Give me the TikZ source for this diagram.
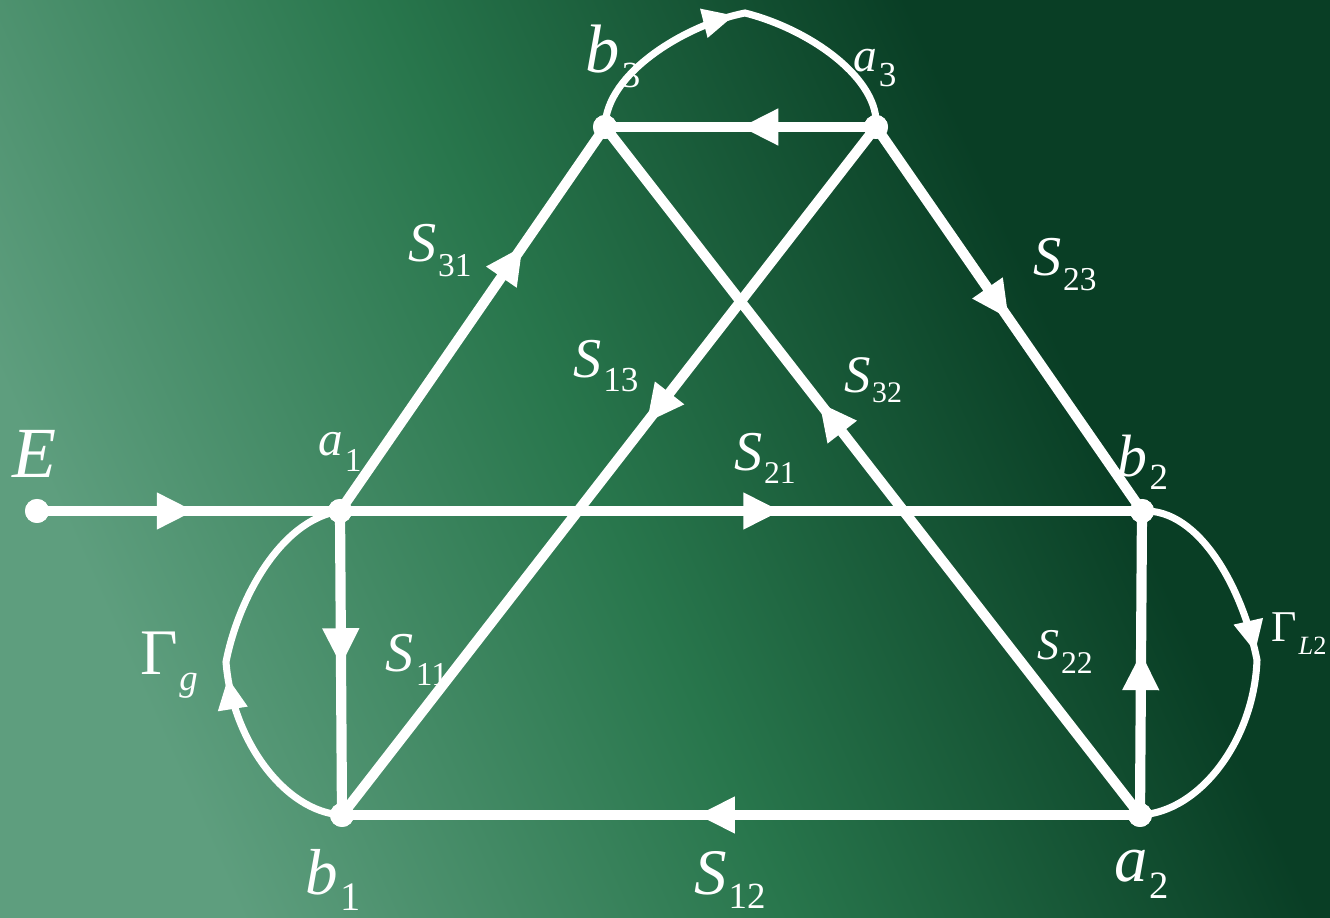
\documentclass[tikz,border=0pt]{standalone}
\usepackage{fontspec}
\setmainfont{Liberation Serif}
\usetikzlibrary{arrows.meta,decorations.markings}
\definecolor{bgL}{RGB}{94,158,126}
\definecolor{bgM}{RGB}{40,118,76}
\definecolor{bgD}{RGB}{9,62,37}
\pgfdeclarehorizontalshading{bgshade}{100bp}{color(0bp)=(bgL); color(26bp)=(bgL); color(47bp)=(bgM); color(67bp)=(bgD); color(100bp)=(bgD)}
\newcommand{\fs}[1]{\fontsize{#1}{#1}\selectfont}
\newcommand{\lab}[5]{{\fs{#1}#2}\kern1pt\raisebox{-#5}{\fs{#3}#4}}
\begin{document}
\begin{tikzpicture}[x=0.02cm,y=-0.02cm,
  dot/.style={circle,fill=white,inner sep=0pt,minimum size=0.48cm},
  edge/.style={draw=white,line width=5.8pt},
  loopline/.style={draw=white,line width=4pt},
  arrowat/.style={postaction={decorate,decoration={markings,mark=at position #1 with {\arrow{Triangle[length=21.5pt,width=19.5pt]}}}}},
  smallarrowat/.style={postaction={decorate,decoration={markings,mark=at position #1 with {\arrow{Triangle[length=18pt,width=16pt]}}}}},
  lbl/.style={text=white,inner sep=0pt}]
\useasboundingbox (0,0) rectangle (1330,918);
\shade[shading=bgshade,shading angle=24] (0,0) rectangle (1330,918);
% nodes
\node[dot] (E) at (37,511) {};
\node[dot] (a1) at (340,511) {};
\node[dot] (b1) at (342,815) {};
\node[dot] (a2) at (1140,815) {};
\node[dot] (b2) at (1142,511) {};
\node[dot] (b3) at (605,127) {};
\node[dot] (a3) at (876,127) {};
\coordinate (gap) at (226,662);
\coordinate (lap) at (1257,660);
\coordinate (tap) at (745,13);
% straight edges
\draw[edge,arrowat=0.52] (E.center) -- (a1.center);
\draw[edge,arrowat=0.69] (a1.center) -- (b3.center);
\draw[edge,arrowat=0.50] (a3.center) -- (b2.center);
\draw[edge,arrowat=0.43] (a3.center) -- (b1.center);
\draw[edge,arrowat=0.60] (a2.center) -- (b3.center);
\draw[edge,arrowat=0.55] (a1.center) -- (b2.center);
\draw[edge,arrowat=0.51] (a1.center) -- (b1.center);
\draw[edge,arrowat=0.555] (a2.center) -- (b1.center);
\draw[edge,arrowat=0.535] (a2.center) -- (b2.center);
\draw[edge,arrowat=0.50] (a3.center) -- (b3.center);
% loops
\draw[loopline,smallarrowat=0.47] (b1.center) .. controls (285,812) and (232,740) .. (gap) .. controls (238,600) and (280,520) .. (a1.center);
\draw[loopline,smallarrowat=0.47] (b2.center) .. controls (1200,508) and (1243,590) .. (lap) .. controls (1254,740) and (1200,812) .. (a2.center);
\draw[loopline,smallarrowat=0.48] (b3.center) .. controls (606,72) and (688,24) .. (tap) .. controls (812,30) and (880,80) .. (a3.center);
% dots on top
\foreach \n in {E,a1,b1,a2,b2,b3,a3} \fill[white] (\n.center) circle[radius=0.24cm];
% labels
\node[lbl] (lE) at (35,454) {\fs{41}\textit{E}};
\node[lbl] (la1) at (340,452) {\lab{28}{\textit{a}}{19}{1}{9pt}};
\node[lbl] (lb3) at (613,56) {\lab{39}{\textit{b}}{21}{3}{8.5pt}};
\node[lbl] (la3) at (875,68) {\lab{27}{\textit{a}}{20}{3}{8.5pt}};
\node[lbl] (lb2) at (1143,462) {\lab{34}{\textit{b}}{21}{2}{7.5pt}};
\node[lbl] (la2) at (1142,874) {\lab{38}{\textit{a}}{22}{2}{9.5pt}};
\node[lbl] (lb1) at (333,880) {\lab{37}{\textit{b}}{23}{1}{9.5pt}};
\node[lbl] (lGg) at (169,665) {\lab{37}{Γ}{21}{\textit{g}}{9pt}};
\node[lbl] (lGL) at (1299,634) {\lab{25}{Γ}{15}{\textit{L}2}{7.5pt}};
\node[lbl] (lS31) at (440,251) {\lab{32}{\textit{S}}{19}{31}{8.5pt}};
\node[lbl] (lS13) at (606,366) {\lab{32}{\textit{S}}{20}{13}{8pt}};
\node[lbl] (lS32) at (873,380) {\lab{30}{\textit{S}}{17}{32}{6pt}};
\node[lbl] (lS21) at (765,458) {\lab{32}{\textit{S}}{18}{21}{7.5pt}};
\node[lbl] (lS23) at (1065,265) {\lab{32}{\textit{S}}{19}{23}{8.5pt}};
\node[lbl] (lS11) at (417,660) {\lab{32}{\textit{S}}{19}{11}{8pt}};
\node[lbl] (lS22) at (1065,652) {\lab{25}{\textit{S}}{18}{22}{7.5pt}};
\node[lbl] (lS12) at (730,880) {\lab{37}{\textit{S}}{21}{12}{8.5pt}};
\end{tikzpicture}
\end{document}
